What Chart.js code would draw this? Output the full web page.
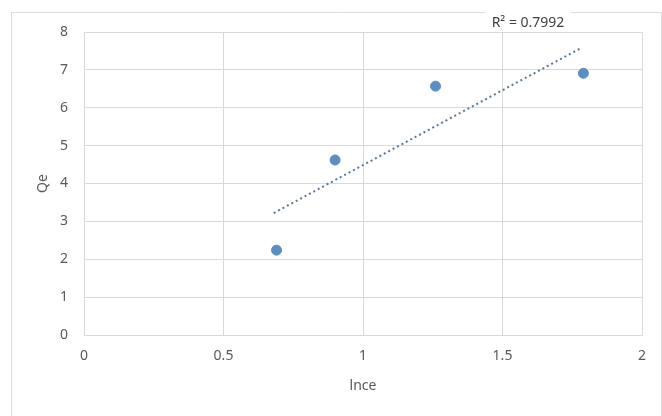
<!DOCTYPE html>
<html>
<head>
<meta charset="utf-8">
<script src="https://cdn.jsdelivr.net/npm/chart.js@4"></script>
<style>
  html, body { margin: 0; padding: 0; background: #fff; }
  #wrap { width: 662px; height: 416px; }
</style>
</head>
<body>
<div id="wrap"><canvas id="chart" width="662" height="416"></canvas></div>
<script>
// values
const lnCe = [0.69, 0.90, 1.26, 1.79];
const qe = [2.24, 4.62, 6.57, 6.91];
const trendX = [0.68, 1.78];
const trendY = [3.22, 7.57];
const xTicks = [0, 0.5, 1, 1.5, 2];
const yTicks = [0, 1, 2, 3, 4, 5, 6, 7, 8];
const rSquared = 'R² = 0.7992';

const FONT = "'Noto Sans', 'Open Sans', sans-serif";

// frame round the chart and the R² label
const decor = {
    id: 'decor',
    beforeDraw(chart) {
        const ctx = chart.ctx;
        ctx.save();
        ctx.strokeStyle = '#dcdcdc';
        ctx.lineWidth = 1;
        ctx.beginPath();
        ctx.moveTo(11.5, 416);
        ctx.lineTo(11.5, 12.5);
        ctx.lineTo(661.5, 12.5);
        ctx.lineTo(661.5, 416);
        ctx.stroke();
        ctx.restore();
    },
    afterDraw(chart) {
        const ctx = chart.ctx;
        ctx.save();
        ctx.font = '14px ' + FONT;
        const w = ctx.measureText(rSquared).width;
        const cx = 528, cy = 23;
        ctx.fillStyle = '#fff';
        ctx.fillRect(cx - w / 2 - 6, 8, w + 12, 22);
        ctx.fillStyle = '#404040';
        ctx.textAlign = 'center';
        ctx.textBaseline = 'middle';
        ctx.fillText(rSquared, cx, cy);
        ctx.restore();
    }
};

new Chart(document.getElementById('chart').getContext('2d'), {
    type: 'scatter',
    data: {
        datasets: [
            {
                label: 'Qe',
                data: lnCe.map((x, i) => ({ x: x, y: qe[i] })),
                backgroundColor: '#5B8EC2',
                borderColor: '#5B8EC2',
                pointRadius: 5,
                pointHoverRadius: 5,
                order: 1
            },
            {
                label: 'Linear',
                type: 'line',
                data: trendX.map((x, i) => ({ x: x, y: trendY[i] })),
                borderColor: '#5a7896',
                borderWidth: 2,
                borderDash: [2, 3],
                pointRadius: 0,
                fill: false,
                order: 2
            }
        ]
    },
    options: {
        responsive: false,
        animation: false,
        layout: { padding: { left: 0, right: 20, top: 32, bottom: 0 } },
        plugins: {
            legend: { display: false },
            tooltip: { enabled: false }
        },
        scales: {
            x: {
                type: 'linear',
                min: 0,
                max: 2,
                afterBuildTicks: s => { s.ticks = xTicks.map(v => ({ value: v })); },
                afterFit: s => { s.height = 81; },
                grid: { color: '#d9d9d9', drawTicks: false },
                border: { color: '#d9d9d9' },
                ticks: {
                    padding: 13,
                    color: '#595959',
                    font: { family: FONT, size: 14 },
                    callback: v => String(v)
                },
                title: {
                    display: true,
                    text: 'lnce',
                    color: '#595959',
                    font: { family: FONT, size: 14 },
                    padding: { top: 0, bottom: 22 }
                }
            },
            y: {
                min: 0,
                max: 8,
                afterBuildTicks: s => { s.ticks = yTicks.map(v => ({ value: v })); },
                afterFit: s => { s.width = 84; },
                grid: { color: '#d9d9d9', drawTicks: false },
                border: { color: '#d9d9d9' },
                ticks: {
                    padding: 16,
                    color: '#595959',
                    font: { family: FONT, size: 14 },
                    callback: v => String(v)
                },
                title: {
                    display: true,
                    text: 'Qe',
                    color: '#595959',
                    font: { family: FONT, size: 14 },
                    padding: { top: 35, bottom: 0 }
                }
            }
        }
    },
    plugins: [decor]
});
</script>
</body>
</html>
